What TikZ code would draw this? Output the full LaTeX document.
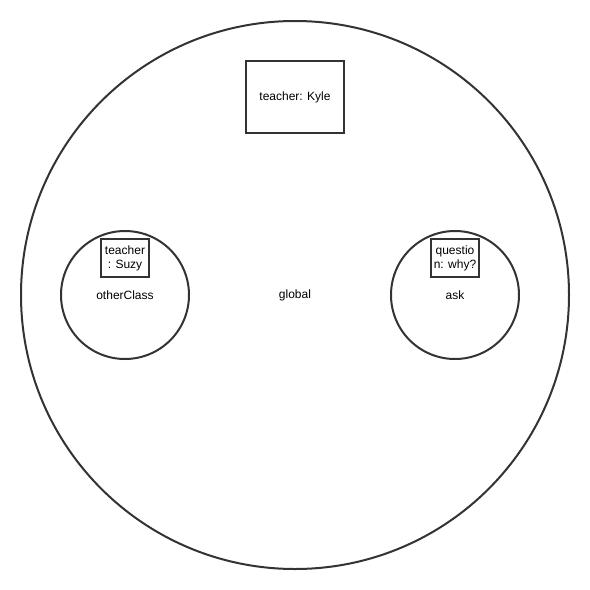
\documentclass[tikz,border=0pt]{standalone}
\usepackage{fontspec}
\setmainfont{Liberation Sans}
\usetikzlibrary{positioning}

\begin{document}
\begin{tikzpicture}[x=1pt, y=-1pt, every node/.style={font=\fontsize{12}{14}\selectfont, text=black}]
\definecolor{LINECOL}{HTML}{333333}
\useasboundingbox (0,0) rectangle (590,590);
\node[circle,draw=LINECOL,line width=2pt,minimum size=548pt] (global) at (295,295) {global};
\node[circle,draw=LINECOL,line width=2pt,minimum size=128pt] (otherClass) at (125,295) {otherClass};
\node[circle,draw=LINECOL,line width=2pt,minimum size=128pt] (ask) at (455,295) {ask};
\node[draw=LINECOL,line width=2pt,minimum width=98pt,minimum height=72pt] (kyle) at (295,97) {teacher: Kyle};
\node[draw=LINECOL,line width=2pt,minimum width=48pt,minimum height=38pt,inner sep=1pt,align=center] (suzy) at (125,258) {teacher\\: Suzy};
\node[draw=LINECOL,line width=2pt,minimum width=48pt,minimum height=38pt,inner sep=1pt,align=center] (why) at (455,258) {questio\\n: why?};
\end{tikzpicture}
\end{document}
